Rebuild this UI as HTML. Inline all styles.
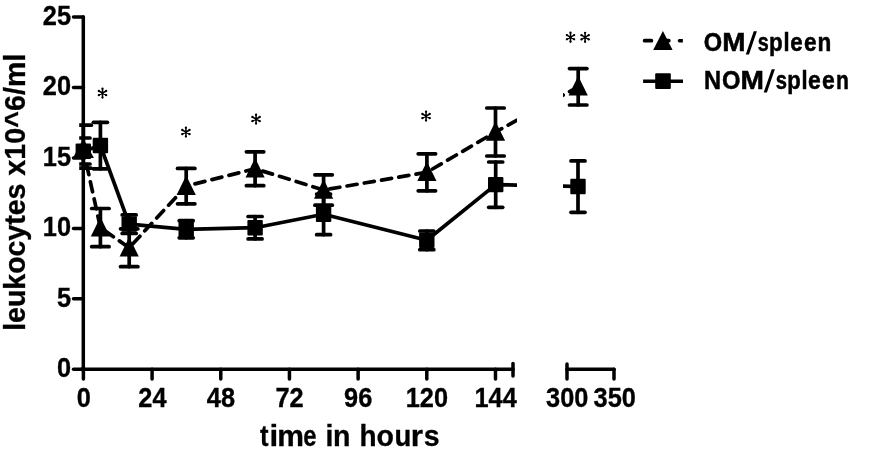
<!DOCTYPE html>
<html><head><meta charset="utf-8"><title>chart</title>
<style>html,body{margin:0;padding:0;background:#fff;}svg{display:block;will-change:transform;}</style>
</head><body>
<svg width="886" height="457" viewBox="0 0 886 457">
<rect width="886" height="457" fill="#fff"/>
<g stroke="#000" stroke-width="3.5" stroke-linecap="round"><line x1="83.3" y1="17" x2="83.3" y2="370.8" /><line x1="73.5" y1="17" x2="83.3" y2="17" /><line x1="73.5" y1="87.46" x2="83.3" y2="87.46" /><line x1="73.5" y1="157.92" x2="83.3" y2="157.92" /><line x1="73.5" y1="228.38" x2="83.3" y2="228.38" /><line x1="73.5" y1="298.84" x2="83.3" y2="298.84" /><line x1="73.5" y1="369.3" x2="83.3" y2="369.3" /><line x1="81.7" y1="369.3" x2="513" y2="369.3" /><line x1="83.4" y1="369.3" x2="83.4" y2="379" /><line x1="152.08" y1="369.3" x2="152.08" y2="379" /><line x1="220.76" y1="369.3" x2="220.76" y2="379" /><line x1="289.44" y1="369.3" x2="289.44" y2="379" /><line x1="358.12" y1="369.3" x2="358.12" y2="379" /><line x1="426.8" y1="369.3" x2="426.8" y2="379" /><line x1="495.48" y1="369.3" x2="495.48" y2="379" /><line x1="513" y1="363.5" x2="513" y2="376" /><line x1="567" y1="369.3" x2="614" y2="369.3" /><line x1="567" y1="364" x2="567" y2="379" /><line x1="614" y1="369.3" x2="614" y2="379" /></g>

<clipPath id="c1"><rect x="0" y="0" width="517" height="457"/></clipPath>
<clipPath id="c2"><rect x="563" y="0" width="100" height="457"/></clipPath>
<g fill="none" stroke="#000" stroke-width="3.7" stroke-linejoin="round">
<g clip-path="url(#c1)">
<polyline points="83.4,150 100.4,227.6 129.2,247.75 186.2,186.1 255.1,168.75 323.6,190 426.9,172.3 495.5,132 578.2,86.8" stroke-dasharray="10.2 7.3" stroke-dashoffset="2.4" stroke-linecap="round"/>
<polyline points="83.3,151.2 100.4,145.5 129.2,224.15 186.2,229.3 255.1,227.7 323.6,214.3 426.8,240.3 495.7,184.65 578,186.5" />
</g>
<g clip-path="url(#c2)">
<polyline points="83.4,150 100.4,227.6 129.2,247.75 186.2,186.1 255.1,168.75 323.6,190 426.9,172.3 495.5,132 578.2,86.8" stroke-dasharray="10.2 7.3" stroke-dashoffset="2.4" stroke-linecap="round"/>
<polyline points="83.3,151.2 100.4,145.5 129.2,224.15 186.2,229.3 255.1,227.7 323.6,214.3 426.8,240.3 495.7,184.65 578,186.5" />
</g>
</g>
<clipPath id="c0"><rect x="79.2" y="0" width="806" height="457"/></clipPath><g stroke="#000" stroke-width="3.7" stroke-linecap="round" clip-path="url(#c0)"><line x1="100.4" y1="208.5" x2="100.4" y2="246.7"/><line x1="91.7" y1="208.5" x2="109.1" y2="208.5"/><line x1="91.7" y1="246.7" x2="109.1" y2="246.7"/><line x1="129.2" y1="228.8" x2="129.2" y2="266.7"/><line x1="120.5" y1="228.8" x2="137.9" y2="228.8"/><line x1="120.5" y1="266.7" x2="137.9" y2="266.7"/><line x1="186.2" y1="168.4" x2="186.2" y2="203.8"/><line x1="177.5" y1="168.4" x2="194.9" y2="168.4"/><line x1="177.5" y1="203.8" x2="194.9" y2="203.8"/><line x1="255.1" y1="151.8" x2="255.1" y2="185.7"/><line x1="246.4" y1="151.8" x2="263.8" y2="151.8"/><line x1="246.4" y1="185.7" x2="263.8" y2="185.7"/><line x1="323.6" y1="174.8" x2="323.6" y2="205.2"/><line x1="314.9" y1="174.8" x2="332.3" y2="174.8"/><line x1="314.9" y1="205.2" x2="332.3" y2="205.2"/><line x1="426.9" y1="153.8" x2="426.9" y2="190.8"/><line x1="418.2" y1="153.8" x2="435.6" y2="153.8"/><line x1="418.2" y1="190.8" x2="435.6" y2="190.8"/><line x1="495.5" y1="108" x2="495.5" y2="156"/><line x1="486.8" y1="108" x2="504.2" y2="108"/><line x1="486.8" y1="156" x2="504.2" y2="156"/><line x1="578.2" y1="68.6" x2="578.2" y2="105"/><line x1="569.5" y1="68.6" x2="586.9" y2="68.6"/><line x1="569.5" y1="105" x2="586.9" y2="105"/><line x1="100.4" y1="122.3" x2="100.4" y2="168.8"/><line x1="93.4" y1="122.3" x2="107.4" y2="122.3"/><line x1="93.4" y1="168.8" x2="107.4" y2="168.8"/><line x1="129.2" y1="214.9" x2="129.2" y2="233.4"/><line x1="122.2" y1="214.9" x2="136.2" y2="214.9"/><line x1="122.2" y1="233.4" x2="136.2" y2="233.4"/><line x1="186.2" y1="220.7" x2="186.2" y2="237.8"/><line x1="179.2" y1="220.7" x2="193.2" y2="220.7"/><line x1="179.2" y1="237.8" x2="193.2" y2="237.8"/><line x1="255.1" y1="216.5" x2="255.1" y2="238.9"/><line x1="248.1" y1="216.5" x2="262.1" y2="216.5"/><line x1="248.1" y1="238.9" x2="262.1" y2="238.9"/><line x1="323.6" y1="194" x2="323.6" y2="234.7"/><line x1="316.6" y1="194" x2="330.6" y2="194"/><line x1="316.6" y1="234.7" x2="330.6" y2="234.7"/><line x1="426.8" y1="231" x2="426.8" y2="249.7"/><line x1="419.8" y1="231" x2="433.8" y2="231"/><line x1="419.8" y1="249.7" x2="433.8" y2="249.7"/><line x1="495.7" y1="162" x2="495.7" y2="207.3"/><line x1="488.7" y1="162" x2="502.7" y2="162"/><line x1="488.7" y1="207.3" x2="502.7" y2="207.3"/><line x1="578" y1="160.9" x2="578" y2="212.3"/><line x1="571" y1="160.9" x2="585" y2="160.9"/><line x1="571" y1="212.3" x2="585" y2="212.3"/><line x1="77" y1="125.2" x2="91.3" y2="125.2"/><line x1="77" y1="138" x2="90" y2="138"/><line x1="77" y1="164" x2="90" y2="164"/><line x1="77" y1="168.2" x2="91" y2="168.2"/><line x1="83.4" y1="125.2" x2="83.4" y2="168.2"/></g>
<g fill="#000"><path d="M83.4,138.6L93.9,158.1L72.9,158.1Z"/><path d="M100.4,216.9L110,236.4L90.8,236.4Z"/><path d="M129.2,237.05L138.8,256.55L119.6,256.55Z"/><path d="M186.2,175.4L195.8,194.9L176.6,194.9Z"/><path d="M255.1,158.05L264.7,177.55L245.5,177.55Z"/><path d="M323.6,179.3L333.2,198.8L314,198.8Z"/><path d="M426.9,161.6L436.5,181.1L417.3,181.1Z"/><path d="M495.5,121.3L505.1,140.8L485.9,140.8Z"/><path d="M578.2,76.1L587.8,95.6L568.6,95.6Z"/><rect x="75.6" y="143.5" width="15.4" height="15.4" rx="1"/><rect x="92.7" y="137.8" width="15.4" height="15.4" rx="1"/><rect x="121.5" y="216.45" width="15.4" height="15.4" rx="1"/><rect x="178.5" y="221.6" width="15.4" height="15.4" rx="1"/><rect x="247.4" y="220" width="15.4" height="15.4" rx="1"/><rect x="315.9" y="206.6" width="15.4" height="15.4" rx="1"/><rect x="419.1" y="232.6" width="15.4" height="15.4" rx="1"/><rect x="488" y="176.95" width="15.4" height="15.4" rx="1"/><rect x="570.3" y="178.8" width="15.4" height="15.4" rx="1"/></g>
<g font-family="Liberation Sans, sans-serif" font-weight="bold" font-size="28.0" fill="#000" stroke="#000" stroke-width="0.35"><text transform="translate(71,25) scale(0.905,1)" text-anchor="end">25</text><text transform="translate(71,95.47) scale(0.905,1)" text-anchor="end">20</text><text transform="translate(71,165.94) scale(0.905,1)" text-anchor="end">15</text><text transform="translate(71,236.41) scale(0.905,1)" text-anchor="end">10</text><text transform="translate(71,306.88) scale(0.905,1)" text-anchor="end">5</text><text transform="translate(71,377.35) scale(0.905,1)" text-anchor="end">0</text><text transform="translate(83.7,407.2) scale(0.905,1)" text-anchor="middle">0</text><text transform="translate(152.4,407.2) scale(0.905,1)" text-anchor="middle">24</text><text transform="translate(220.9,407.2) scale(0.905,1)" text-anchor="middle">48</text><text transform="translate(289.5,407.2) scale(0.905,1)" text-anchor="middle">72</text><text transform="translate(358.2,407.2) scale(0.905,1)" text-anchor="middle">96</text><text transform="translate(426.9,407.2) scale(0.905,1)" text-anchor="middle">120</text><text transform="translate(495.6,407.2) scale(0.905,1)" text-anchor="middle">144</text><text transform="translate(567.2,407.2) scale(0.905,1)" text-anchor="middle">300</text><text transform="translate(614.7,407.2) scale(0.905,1)" text-anchor="middle">350</text></g>
<g font-family="Liberation Sans, sans-serif" font-weight="bold" font-size="28.75" stroke="#000" stroke-width="0.3"><text transform="translate(260.09,446.1) scale(0.890,1)">t</text><text transform="translate(269.51,446.1) scale(1.090,1)">i</text><text transform="translate(277.32,446.1) scale(1.046,1)">m</text><text transform="translate(303.27,446.1) scale(0.828,1)">e</text><text transform="translate(325.62,446.1) scale(0.989,1)">i</text><text transform="translate(332.92,446.1) scale(0.994,1)">n</text><text transform="translate(359.45,446.1) scale(0.973,1)">h</text><text transform="translate(376.59,446.1) scale(0.992,1)">o</text><text transform="translate(394.39,446.1) scale(0.958,1)">u</text><text transform="translate(410.82,446.1) scale(1.095,1)">r</text><text transform="translate(423.70,446.1) scale(0.993,1)">s</text></g>
<g font-family="Liberation Sans, sans-serif" font-weight="bold" font-size="28.6" stroke="#000" stroke-width="0.3"><text transform="translate(25.2,330.85) rotate(-90)" letter-spacing="-0.06">leukocytes</text><text transform="translate(25.2,53.55) rotate(-90)" text-anchor="end" letter-spacing="0.07">x10^6/ml</text></g>
<defs><g id="ast"><g stroke="#000" stroke-width="1.5" stroke-linecap="round" fill="none">
<path d="M0,-4.45V4.45M-3.65,-2.1L3.65,2.1M-3.65,2.1L3.65,-2.1"/></g>
<g fill="#000"><circle cx="0" cy="-4.45" r="1.15"/><circle cx="0" cy="4.45" r="1.15"/><circle cx="-3.65" cy="-2.1" r="1.15"/><circle cx="3.65" cy="-2.1" r="1.15"/><circle cx="-3.65" cy="2.1" r="1.15"/><circle cx="3.65" cy="2.1" r="1.15"/><circle r="1.4"/></g></g></defs><use href="#ast" x="102.5" y="93.1"/><use href="#ast" x="185.9" y="132.1"/><use href="#ast" x="256.05" y="119.1"/><use href="#ast" x="426.05" y="116.1"/><use href="#ast" x="570.5" y="37.2"/><use href="#ast" x="585.1" y="37.3"/>

<g stroke="#000" stroke-width="3.7" stroke-linecap="round">
<line x1="644.6" y1="40.7" x2="651.4" y2="40.7"/>
<line x1="662" y1="40.7" x2="668.8" y2="40.7"/>
</g>
<line x1="643.1" y1="81.2" x2="683" y2="81.2" stroke="#000" stroke-width="3.4"/>
<path d="M679.4,39 H682.9 V42.4 H679.4 A1.7,1.7 0 0 1 679.4,39 Z" fill="#000"/>
<path d="M662.9,31.1L672.6,50.1L653.2,50.1Z" fill="#000"/>
<path d="M745.8,54.5L749,54.5L756.9,31.2L753.7,31.2Z M763.7,92.6L766.9,92.6L774.9,69.2L771.7,69.2Z" fill="#000"/>
<rect x="655.2" y="73.3" width="15.6" height="15.7" rx="1" fill="#000"/>
<g font-family="Liberation Sans, sans-serif" font-weight="bold" font-size="25.2" fill="#000" stroke="#000" stroke-width="0.5">
<text transform="translate(703.63,51.3) scale(0.937,1)">O</text><text transform="translate(722.13,51.3) scale(1.107,1)">M</text><text transform="translate(757.70,51.3) scale(0.785,1)">s</text><text transform="translate(768.92,51.3) scale(0.890,1)">p</text><text transform="translate(783.47,51.3) scale(0.868,1)">l</text><text transform="translate(790.13,51.3) scale(0.887,1)">e</text><text transform="translate(803.92,51.3) scale(0.896,1)">e</text><text transform="translate(817.51,51.3) scale(0.896,1)">n</text>
<text transform="translate(704.12,88.5) scale(0.938,1)">N</text><text transform="translate(721.93,88.5) scale(0.942,1)">O</text><text transform="translate(740.42,88.5) scale(1.118,1)">M</text><text transform="translate(775.69,88.5) scale(0.802,1)">s</text><text transform="translate(787.15,88.5) scale(0.874,1)">p</text><text transform="translate(801.47,88.5) scale(0.868,1)">l</text><text transform="translate(808.00,88.5) scale(0.912,1)">e</text><text transform="translate(822.00,88.5) scale(0.912,1)">e</text><text transform="translate(835.91,88.5) scale(0.838,1)">n</text>
</g>
</svg>
</body></html>
